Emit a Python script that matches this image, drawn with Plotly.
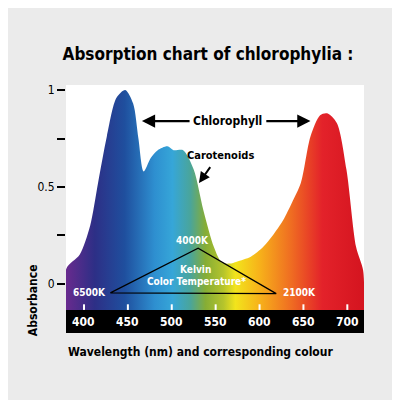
import plotly.graph_objects as go

# absorbance curve
wavelength = [380, 395, 407, 416, 426, 437, 447, 456, 462, 468, 476, 484, 495, 502, 513, 525, 536, 548, 557,
              566, 574, 590, 604, 615, 627, 637, 647, 658, 669, 677, 688, 699, 710, 718]
absorbance = [0.08, 0.15, 0.30, 0.52, 0.76, 0.96, 1.0, 0.93, 0.75, 0.58, 0.65, 0.69, 0.71, 0.69, 0.69, 0.59,
              0.38, 0.19, 0.11, 0.105, 0.115, 0.14, 0.19, 0.25, 0.33, 0.42, 0.52, 0.76, 0.87, 0.88, 0.83, 0.59,
              0.19, 0.07]

x_ticks = [400, 450, 500, 550, 600, 650, 700]
y_ticks = [0, 0.25, 0.5, 0.75, 1]
y_labels = ["0", "", "0.5", "", "1"]

spectrum = [[0.0, "#6b2a8e"], [0.1, "#2d2f86"], [0.2, "#1f4f9e"], [0.3, "#2e8fd0"], [0.36, "#36a6d8"],
            [0.42, "#4aa59a"], [0.47, "#86ad35"], [0.53, "#b5c42c"], [0.57, "#f2e41c"], [0.65, "#f7b21a"],
            [0.76, "#ef6a22"], [0.86, "#e3222a"], [1.0, "#d4141f"]]

triangle_x = [430, 530, 619, 430]
triangle_y = [-0.046, 0.184, -0.05, -0.046]

x0, x1 = 379.5, 719
base = -0.134
bottom = -0.253
font = "Liberation Sans Narrow, DejaVu Sans Condensed, Arial Narrow, sans-serif"

fig = go.Figure()
fig.add_trace(go.Scatter(x=[x0, x1], y=[base, base], mode="lines", line=dict(width=0),
                         hoverinfo="skip", showlegend=False))
fig.add_trace(go.Scatter(x=[x0] + wavelength + [x1], y=[base] + absorbance + [base], mode="lines",
                         line=dict(width=0, shape="spline", smoothing=0.8), fill="tonexty",
                         fillgradient=dict(type="horizontal", colorscale=spectrum),
                         showlegend=False))
fig.add_shape(type="rect", x0=x0, x1=x1, y0=bottom, y1=base, fillcolor="black", line_width=0)

# white tick marks above the band
tx, ty = [], []
for t in x_ticks:
    tx += [t, t, None]
    ty += [base, -0.105, None]
fig.add_trace(go.Scatter(x=tx, y=ty, mode="lines", line=dict(color="white", width=2),
                         hoverinfo="skip", showlegend=False))
for t in x_ticks:
    fig.add_annotation(x=t, y=-0.195, text=f"<b>{t}</b>", showarrow=False,
                       font=dict(color="white", size=12, family=font))

fig.add_trace(go.Scatter(x=triangle_x, y=triangle_y, mode="lines", line=dict(color="black", width=1.2),
                         hoverinfo="skip", showlegend=False))

wb = dict(color="white", size=10, family=font)
fig.add_annotation(x=406, y=-0.046, text="<b>6500K</b>", showarrow=False, font=wb)
fig.add_annotation(x=524, y=0.225, text="<b>4000K</b>", showarrow=False, font=wb)
fig.add_annotation(x=645, y=-0.046, text="<b>2100K</b>", showarrow=False, font=wb)
fig.add_annotation(x=527, y=0.075, text="<b>Kelvin</b>", showarrow=False, font=wb)
fig.add_annotation(x=528, y=0.012, text="<b>Color Temperature*</b>", showarrow=False, font=wb)

bb = dict(color="black", size=12, family=font)
fig.add_annotation(x=564, y=0.84, text="<b>Chlorophyll</b>", showarrow=False, font=bb)
fig.add_annotation(x=466, y=0.84, ax=522, ay=0.84, axref="x", ayref="y", text="", showarrow=True,
                   arrowhead=2, arrowsize=1.2, arrowwidth=2.2, arrowcolor="black")
fig.add_annotation(x=658, y=0.84, ax=606, ay=0.84, axref="x", ayref="y", text="", showarrow=True,
                   arrowhead=2, arrowsize=1.2, arrowwidth=2.2, arrowcolor="black")
fig.add_annotation(x=556, y=0.66, text="<b>Carotenoids</b>", showarrow=False, font=dict(color="black", size=11, family=font))
fig.add_annotation(x=531, y=0.52, ax=545, ay=0.61, axref="x", ayref="y", text="", showarrow=True,
                   arrowhead=2, arrowsize=1.1, arrowwidth=2, arrowcolor="black")

# page body has an 8px margin, so everything is shifted back by 8px
fig.update_layout(
    width=400, height=400,
    margin=dict(l=58, r=44, t=77, b=75),
    paper_bgcolor="#ebebeb", plot_bgcolor="white",
    title=dict(text="<b>Absorption chart of chlorophylia :</b>", x=0.5, y=0.885, xanchor="center",
               yanchor="middle", font=dict(size=17, color="black", family=font)),
    xaxis=dict(range=[x0, x1], showgrid=False, zeroline=False, showticklabels=False, ticks=""),
    yaxis=dict(range=[bottom, 1.026], showgrid=False, zeroline=False, tickvals=y_ticks, ticktext=y_labels,
               ticks="outside", ticklen=8, tickwidth=2, tickcolor="black",
               tickfont=dict(size=12, color="black", family=font)),
    showlegend=False,
)
fig.add_annotation(xref="paper", yref="paper", x=-0.11, y=-0.02, xanchor="center", yanchor="bottom",
                   textangle=-90, text="<b>Absorbance</b>", showarrow=False, font=bb)
fig.add_annotation(xref="paper", yref="paper", x=0.0, y=-0.04, xanchor="left", yanchor="top",
                   text="<b>Wavelength (nm) and corresponding colour</b>", showarrow=False, font=bb)

fig.write_html("out.html")
